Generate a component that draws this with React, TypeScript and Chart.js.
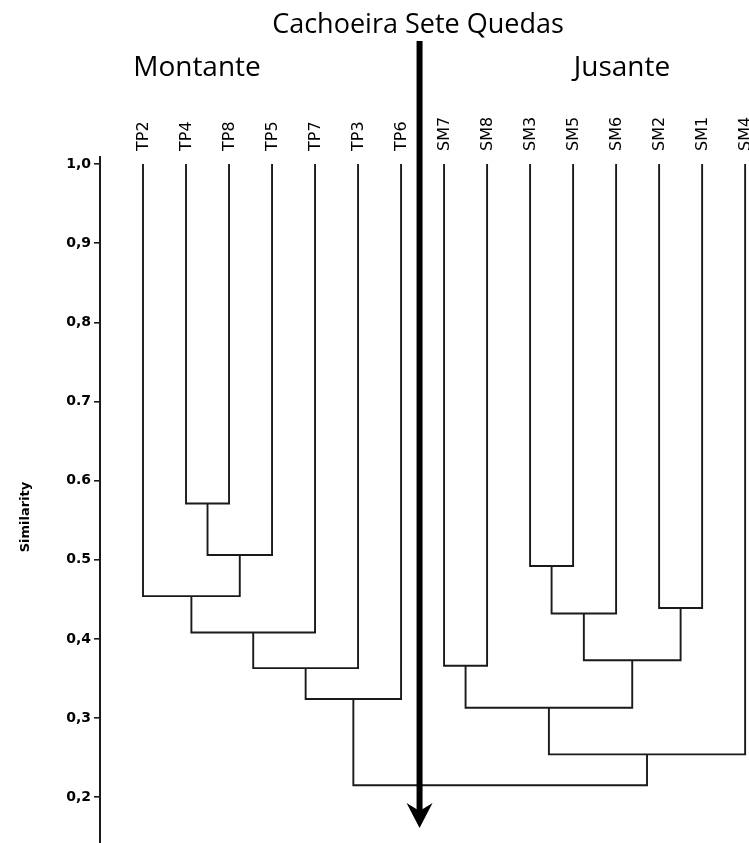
import React, { useEffect, useRef } from "react";
import { Chart, registerables } from "chart.js";

Chart.register(...registerables);

// Leaves of the dendrogram, left to right
const leafLabels = ["TP2", "TP4", "TP8", "TP5", "TP7", "TP3", "TP6", "SM7", "SM8", "SM3", "SM5", "SM6", "SM2", "SM1", "SM4"];
const leafHeight = 1.0;

// Merges (ids < 15 are leaves, id 15 + k is merge k)
const mergeLeft = [1, 15, 0, 17, 18, 19, 9, 21, 12, 22, 7, 25, 26, 20];
const mergeRight = [2, 3, 16, 4, 5, 6, 10, 11, 13, 23, 8, 24, 14, 27];
const mergeHeight = [0.571, 0.506, 0.454, 0.408, 0.363, 0.324, 0.492, 0.432, 0.439, 0.373, 0.366, 0.313, 0.254, 0.215];

// Y axis ticks
const yTickValues = [0.2, 0.3, 0.4, 0.5, 0.6, 0.7, 0.8, 0.9, 1.0];
const yTickLabels = ["0,2", "0,3", "0,4", "0.5", "0.6", "0.7", "0,8", "0,9", "1,0"];

// Arrow (river fall) between TP6 and SM7, from top to this similarity value
const arrowPosition = 6.43;
const arrowTipValue = 0.161;

const titleText = "Cachoeira Sete Quedas";
const leftGroupText = "Montante";
const rightGroupText = "Jusante";
const yAxisTitle = "Similarity";

function buildSegments() {
  const n = leafLabels.length;
  const pos: number[] = leafLabels.map((_, i) => i);
  const hgt: number[] = leafLabels.map(() => leafHeight);
  const segs: { x: number; y: number }[][] = [];
  for (let k = 0; k < mergeLeft.length; k++) {
    const l = mergeLeft[k];
    const r = mergeRight[k];
    const h = mergeHeight[k];
    segs.push([
      { x: pos[l], y: hgt[l] },
      { x: pos[l], y: h },
      { x: pos[r], y: h },
      { x: pos[r], y: hgt[r] },
    ]);
    pos[n + k] = (pos[l] + pos[r]) / 2;
    hgt[n + k] = h;
  }
  return segs;
}

export default function App() {
  const ref = useRef<HTMLCanvasElement | null>(null);

  useEffect(() => {
    document.body.style.margin = "0";
    document.body.style.overflow = "hidden";
    const canvas = ref.current;
    if (!canvas) return;
    const segs = buildSegments();
    const lineColor = "#1a1a1a";

    const overlay = {
      id: "overlay",
      afterDraw(chart: any) {
        const ctx = chart.ctx;
        const xs = chart.scales.x;
        const ys = chart.scales.y;
        ctx.save();
        ctx.fillStyle = "#000";
        ctx.textAlign = "center";
        ctx.textBaseline = "alphabetic";
        ctx.font = "27px 'Open Sans'";
        ctx.fillText(titleText, 418, 33);
        ctx.font = "28px 'Open Sans'";
        ctx.fillText(leftGroupText, 197, 76);
        ctx.fillText(rightGroupText, 622, 76);

        // leaf labels, rotated, above each leaf
        ctx.font = "16px 'DejaVu Sans'";
        ctx.textAlign = "left";
        ctx.textBaseline = "middle";
        leafLabels.forEach((lab, i) => {
          const px = xs.getPixelForValue(i);
          ctx.save();
          ctx.translate(px + 0.5, chart.chartArea.top - 6);
          ctx.rotate(-Math.PI / 2);
          ctx.fillText(lab, 0, 0);
          ctx.restore();
        });

        // y axis title
        ctx.font = "bold 13px 'DejaVu Sans'";
        ctx.textAlign = "center";
        ctx.save();
        ctx.translate(26, 517);
        ctx.rotate(-Math.PI / 2);
        ctx.fillText(yAxisTitle, 0, 0);
        ctx.restore();

        // arrow
        const ax = xs.getPixelForValue(arrowPosition);
        const tip = ys.getPixelForValue(arrowTipValue);
        ctx.fillRect(ax - 3, 41, 6, tip - 41 - 14);
        ctx.beginPath();
        ctx.moveTo(ax - 13, tip - 25);
        ctx.lineTo(ax, tip - 17);
        ctx.lineTo(ax + 13, tip - 25);
        ctx.lineTo(ax, tip);
        ctx.closePath();
        ctx.fill();
        ctx.restore();
      },
    };

    const chart = new Chart(canvas, {
      type: "scatter",
      data: {
        datasets: segs.map((s) => ({
          data: s,
          showLine: true,
          borderColor: lineColor,
          borderWidth: 1.9,
          pointRadius: 0,
          pointHoverRadius: 0,
          fill: false,
          tension: 0,
        })),
      },
      options: {
        responsive: false,
        animation: false,
        events: [],
        layout: { padding: 0 },
        plugins: { legend: { display: false }, tooltip: { enabled: false }, title: { display: false } },
        scales: {
          x: {
            type: "linear",
            position: "top",
            min: -1,
            max: 14.09,
            afterBuildTicks: (s: any) => {
              s.ticks = leafLabels.map((_, i) => ({ value: i }));
            },
            afterFit: (s: any) => {
              s.height = 157;
              s.paddingLeft = 0;
              s.paddingRight = 0;
            },
            ticks: { display: false },
            grid: { display: false, drawTicks: false },
            border: { display: false },
          },
          y: {
            type: "linear",
            min: 0.142,
            max: 1.009,
            afterBuildTicks: (s: any) => {
              s.ticks = yTickValues.map((v) => ({ value: v }));
            },
            afterFit: (s: any) => {
              s.width = 100;
              s.paddingTop = 0;
              s.paddingBottom = 0;
            },
            ticks: {
              padding: 3,
              color: "#000",
              font: { family: "'DejaVu Sans', sans-serif", size: 14, weight: "bold" },
              callback: (_v: any, i: number) => yTickLabels[i],
            },
            grid: {
              display: true,
              drawOnChartArea: false,
              drawTicks: true,
              tickLength: 6,
              color: lineColor,
              lineWidth: 1.6,
            },
            border: { display: true, color: lineColor, width: 2 },
            title: { display: false },
          },
        },
      },
      plugins: [overlay],
    } as any);
    return () => chart.destroy();
  }, []);

  return (
    <div style={{ width: 749, height: 843, position: "relative" }}>
      <canvas ref={ref} width={749} height={843} style={{ display: "block" }} />
    </div>
  );
}
